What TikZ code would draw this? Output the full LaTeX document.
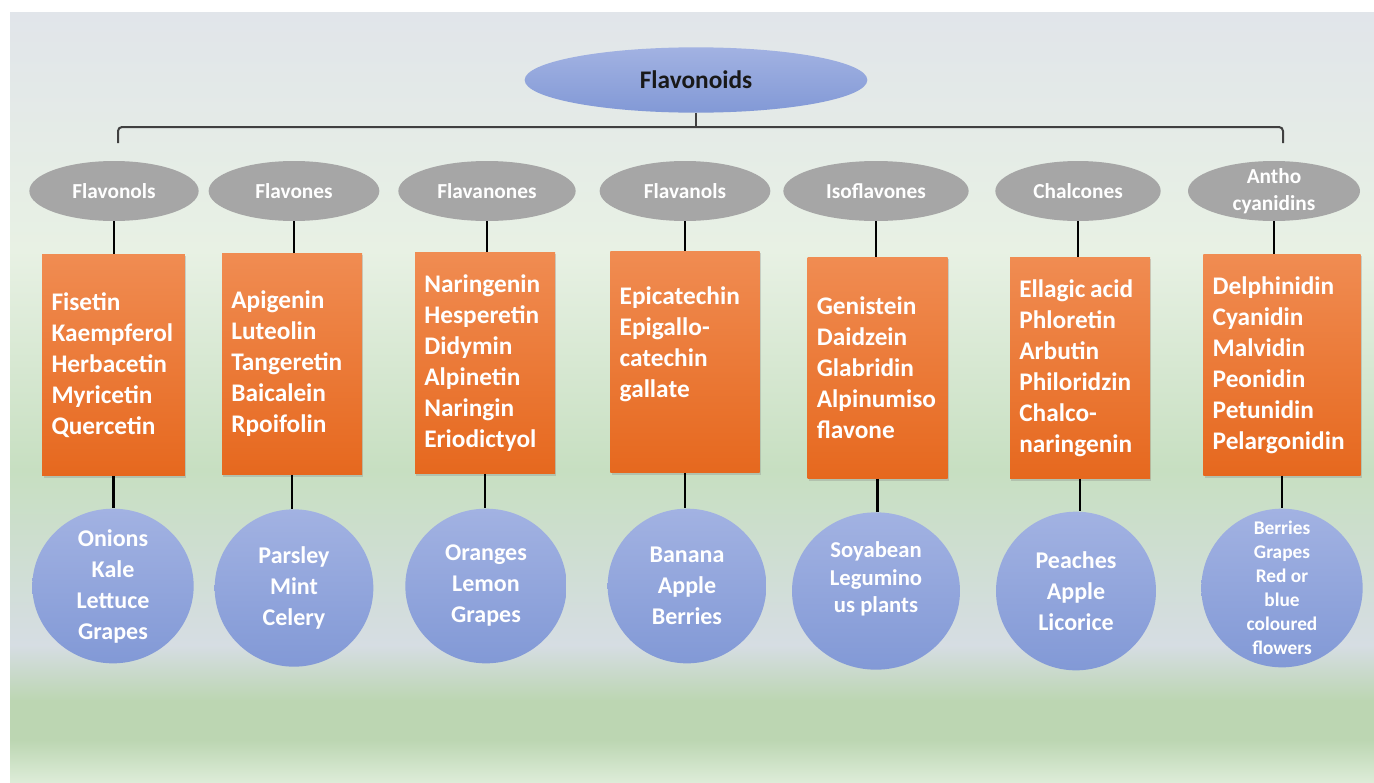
\documentclass[tikz,border=0pt]{standalone}
\usepackage{fontspec}
\setmainfont{Carlito}
\definecolor{bgtop}{RGB}{225,229,234}
\definecolor{bgpale}{RGB}{232,241,228}
\definecolor{bggreen}{RGB}{199,223,193}
\definecolor{bggray}{RGB}{214,221,227}
\definecolor{bgdeep}{RGB}{188,214,178}
\definecolor{bglight}{RGB}{221,236,216}
\definecolor{classgray}{RGB}{166,166,166}
\definecolor{orangetop}{RGB}{240,140,82}
\definecolor{orangebot}{RGB}{230,104,30}
\definecolor{bluetop}{RGB}{162,178,226}
\definecolor{bluebot}{RGB}{130,153,214}
\usetikzlibrary{shapes.geometric, shadows}

\begin{document}
\begin{tikzpicture}[
  x=0.75pt, y=-0.75pt,
  topnode/.style={ellipse, top color=bluetop, bottom color=bluebot, minimum width=257pt,
                  minimum height=49pt, text=black!90, font=\fontsize{19}{23}\selectfont\bfseries},
  classnode/.style={ellipse, fill=classgray, minimum height=45pt, inner sep=0pt},
  classtext/.style={text=white, align=center, font=\fontsize{16}{20}\selectfont\bfseries},
  listbox/.style={rectangle, top color=orangetop, bottom color=orangebot, text=white,
                  minimum height=166pt, inner xsep=7pt, align=left,
                  font=\fontsize{19}{23.25}\selectfont\bfseries,
                  drop shadow={opacity=0.3, shadow xshift=1pt, shadow yshift=-1.5pt}},
  source/.style={ellipse, top color=bluetop, bottom color=bluebot, inner sep=0pt},
  srctext/.style={text=white, align=center, font=\fontsize{18}{23.25}\selectfont\bfseries},
  link/.style={line width=2.2pt, black},
  bracket/.style={line width=1.5pt, black!75, rounded corners=3pt}
]
  \useasboundingbox (0,0) rectangle (1374,782);

  % Background panel
  \fill[white] (0,0) rectangle (1374,782);
  \fill[top color=bgtop, bottom color=bgpale]   (10,12)  rectangle (1374,251);
  \fill[top color=bgpale, bottom color=bggreen] (10,250) rectangle (1374,471);
  \fill[top color=bggreen, bottom color=bggray] (10,470) rectangle (1374,646);
  \fill[top color=bggray, bottom color=bgdeep]  (10,645) rectangle (1374,701);
  \fill[bgdeep]                                 (10,700) rectangle (1374,741);
  \fill[top color=bgdeep, bottom color=bglight] (10,740) rectangle (1374,782);

  % Root
  \node[topnode] (flav) at (696,80) {Flavonoids};

  % Classes
  \node[classnode, minimum width=127pt, label={[classtext]center:Flavonols}]   (flavonols)  at (114,191)  {};
  \node[classnode, minimum width=128pt, label={[classtext]center:Flavones}]    (flavones)   at (294,191)  {};
  \node[classnode, minimum width=133pt, label={[classtext]center:Flavanones}]  (flavanones) at (487,191)  {};
  \node[classnode, minimum width=128pt, label={[classtext]center:Flavanols}]   (flavanols)  at (685,191)  {};
  \node[classnode, minimum width=139pt, label={[classtext]center:Isoflavones}] (isoflav)    at (876,191)  {};
  \node[classnode, minimum width=124pt, label={[classtext]center:Chalcones}]   (chalcones)  at (1078,191) {};
  \node[classnode, minimum width=129pt, label={[classtext]center:Antho\\cyanidins}] (anthocy) at (1274,191) {};

  % Compound lists
  \node[listbox, text width=93pt]   (flavonolsList)  at (113.5,365) {Fisetin\\Kaempferol\\Herbacetin\\Myricetin\\Quercetin};
  \node[listbox, text width=91pt]   (flavonesList)   at (292,364)   {Apigenin\\Luteolin\\Tangeretin\\Baicalein\\Rpoifolin};
  \node[listbox, text width=91pt]   (flavanonesList) at (485,363)   {Naringenin\\Hesperetin\\Didymin\\Alpinetin\\Naringin\\Eriodictyol};
  \node[listbox, text width=98pt]   (flavanolsList)  at (685,362)   {Epicatechin\\Epigallo-\\catechin\\gallate\\\strut};
  \node[listbox, text width=91pt]   (isoflavList)    at (877.5,368) {Genistein\\Daidzein\\Glabridin\\Alpinumiso\\flavone};
  \node[listbox, text width=91pt]   (chalconesList)  at (1080,368)  {Ellagic\kern3.5pt acid\\Phloretin\\Arbutin\\Philoridzin\\Chalco-\\naringenin};
  \node[listbox, text width=104pt]  (anthocyList)    at (1282,365)  {Delphinidin\\Cyanidin\\Malvidin\\Peonidin\\Petunidin\\Pelargonidin};

  % Food sources
  \node[source, minimum width=121pt, minimum height=116pt, label={[srctext]center:Onions\\Kale\\Lettuce\\Grapes}] (flavonolsSrc) at (113,586) {};
  \node[source, minimum width=119pt, minimum height=118pt, label={[srctext]center:Parsley\\Mint\\Celery}]        (flavonesSrc)  at (294,588) {};
  \node[source, minimum width=121pt, minimum height=116pt, label={[srctext]center:Oranges\\Lemon\\Grapes}]       (flavanonesSrc) at (486,586) {};
  \node[source, minimum width=119pt, minimum height=116pt, label={[srctext]center:Banana\\Apple\\Berries}]       (flavanolsSrc) at (687,586) {};
  \node[source, minimum width=126pt, minimum height=118pt,
        label={[srctext, font=\fontsize{17}{20.6}\selectfont\bfseries, yshift=9pt]center:Soyabean\\Legumino\\us plants}] (isoflavSrc) at (876,591) {};
  \node[source, minimum width=120pt, minimum height=119pt, label={[srctext]center:Peaches\\Apple\\Licorice}]     (chalconesSrc) at (1076,591) {};
  \node[source, minimum width=121pt, minimum height=119pt,
        label={[srctext, font=\fontsize{14.5}{18}\selectfont\bfseries]center:Berries\\Grapes\\Red or\\blue\\coloured\\flowers}] (anthocySrc) at (1282,588) {};

  % Bracket from root to classes
  \coordinate (brL) at (118,143);
  \coordinate (brR) at (1283,143);
  \draw[bracket] (brL) -- (118,127) -- (1283,127) -- (brR);
  \draw[bracket] (flav.south) -- (flav.south |- 0,127);

  % Class -> list -> source links
  \foreach \c in {flavonols, flavones, flavanones, flavanols, isoflav, chalcones, anthocy} {
    \draw[link] (\c.south) -- (\c.south |- \c List.north);
    \draw[link] (\c List.south) -- (\c List.south |- \c Src.north);
  }
\end{tikzpicture}
\end{document}
